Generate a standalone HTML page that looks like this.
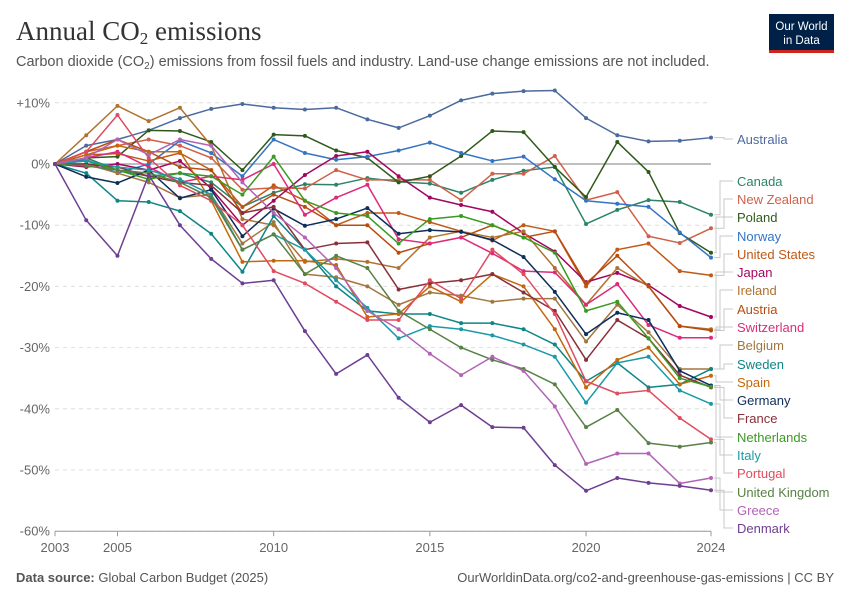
<!DOCTYPE html>
<html><head><meta charset="utf-8">
<style>
body{margin:0;background:#fff;font-family:"Liberation Sans",sans-serif;}
#wrap{position:relative;width:850px;height:600px;overflow:hidden;}
</style></head>
<body>
<div id="wrap">
<svg id="svg" width="850" height="600" xmlns="http://www.w3.org/2000/svg">
<text x="16" y="40" font-family="Liberation Serif,serif" font-size="27" fill="#333">Annual CO<tspan font-size="17" dy="4">2</tspan><tspan dy="-4"> emissions</tspan></text>
<text x="16" y="66" font-size="14.5" fill="#555">Carbon dioxide (CO<tspan font-size="10" dy="3">2</tspan><tspan dy="-3">) emissions from fossil fuels and industry. Land-use change emissions are not included.</tspan></text>
<g>
<rect x="769" y="14" width="65" height="38" fill="#002147"/>
<rect x="769" y="50" width="65" height="3" fill="#ce261e"/>
<text x="801.5" y="30" font-size="11.5" fill="#fff" text-anchor="middle">Our World</text>
<text x="801.5" y="44" font-size="11.5" fill="#fff" text-anchor="middle">in Data</text>
</g>
<g id="grid"></g>
<g id="series"></g>
<g id="legend"></g>
<text x="16" y="582" font-size="13" fill="#555"><tspan font-weight="bold">Data source:</tspan> Global Carbon Budget (2025)</text>
<text x="834" y="582" font-size="13" fill="#555" text-anchor="end">OurWorldinData.org/co2-and-greenhouse-gas-emissions | CC BY</text>
</svg>
</div>
<script>
const years=[2003,2004,2005,2006,2007,2008,2009,2010,2011,2012,2013,2014,2015,2016,2017,2018,2019,2020,2021,2022,2023,2024];
const yTicks=[10,0,-10,-20,-30,-40,-50,-60];
const xTicks=[2003,2005,2010,2015,2020,2024];
const countries=["Australia","Canada","New Zealand","Poland","Norway","United States","Japan","Ireland","Austria","Switzerland","Belgium","Sweden","Spain","Germany","France","Netherlands","Italy","Portugal","United Kingdom","Greece","Denmark"];
const colors=["#4c6a9c","#2c8465","#d0604a","#2f5a1a","#3573c4","#c05917","#a2065f","#b0722e","#b84c0f","#dd2a7a","#a2773f","#0f8585","#c4680e","#0d2d5a","#883039","#3a9a22","#1a9aa8","#e04b5f","#578145","#b165b4","#6d3e91"];
const labelY=[139,181,199,217,236,254,272,290,309,327,345,364,382,400,418,437,455,473,492,510,528];
const australia=[0,3,4,5.5,7.5,9,9.8,9.2,8.9,9.2,7.3,5.9,7.9,10.4,11.5,11.9,12,7.5,4.7,3.7,3.8,4.3];
const canada=[0,1,-1,-2,-1.5,-3,-7,-4.7,-3.3,-3.4,-2.3,-2.9,-3.2,-4.7,-2.6,-1.1,-0.5,-9.8,-7.5,-5.9,-6.2,-8.3];
const newZealand=[0,2,3,4,3,1,-4.2,-3.9,-4,-1,-2.6,-2.6,-2.6,-5.9,-1.6,-1.6,1.3,-5.9,-4.6,-11.8,-12.9,-10.5];
const poland=[0,1,1.2,5.5,5.4,3.6,-1,4.8,4.6,2.2,1,-3,-2,1.3,5.4,5.2,-0.5,-5.4,3.6,-1.3,-11.3,-14.5];
const norway=[0,0.7,-1.5,0,3.8,1.8,-2,4,1.8,0.7,1.2,2.2,3.5,1.8,0.5,1.2,-2.5,-6,-6.5,-7,-11.2,-15.3];
const unitedStates=[0,1.5,1.7,0.5,1.8,-1,-7,-3.5,-6,-10,-8,-8,-9.5,-11,-12.5,-10,-11,-20,-14,-13,-17.5,-18.2];
const japan=[0,-0.5,0,-1,0.5,-4,-10,-6,-1.8,1.3,2,-2,-5.5,-6.7,-7.8,-11.3,-14.3,-19.3,-17.8,-19.8,-23.2,-25];
const ireland=[0,4.7,9.5,7,9.2,3,-9,-10,-16,-15.5,-16,-17,-12,-11,-12,-11,-17,-23,-17,-20,-26.5,-27];
const austria=[0,2,4,2,-0.5,-1,-8,-5,-7,-10,-10,-14.5,-13,-12,-10,-12,-11,-19.5,-15,-20,-26.5,-27.2];
const switzerland=[0,1,2,-0.5,-3,-2,-2.6,0,-8.3,-5.5,-3.4,-12.3,-13,-12,-14.6,-17.5,-17.7,-23,-19.6,-26.3,-28.4,-28.4];
const belgium=[0,0,-1.5,-3,-5.5,-5,-13,-9.5,-18,-18.5,-20,-23,-21,-21.5,-22.5,-22,-22,-29,-23,-27.5,-33.5,-33.5];
const sweden=[0,-1.5,-6,-6.2,-7.7,-11.4,-17.6,-8.5,-14,-20,-24,-24.5,-24.5,-26,-26,-27,-29.5,-35.5,-32.5,-36.5,-36,-33.5];
const spain=[0,1.5,3,2,2,-6,-16,-15.8,-15.8,-16.5,-25,-24.5,-20,-22.5,-18,-20,-27,-36.5,-32,-30,-36,-34.6];
const germany=[0,-2.1,-3.1,-1,-5.6,-4.2,-11.8,-7.3,-10.1,-9,-7.2,-11.4,-10.8,-11.1,-12.4,-15.2,-20.9,-27.8,-24.3,-25.5,-33.8,-36.2];
const france=[0,0,-0.5,-2,-3,-3.5,-8,-7,-14,-13,-12.8,-20.5,-19.5,-19,-18,-21,-24,-32,-25.5,-28.5,-34.5,-36.5];
const netherlands=[0,0.5,-1,-2.5,-1.5,-2,-5,1.2,-6,-8,-8.5,-13,-9,-8.5,-10,-12,-14.5,-24,-22.5,-28.5,-35,-36.4];
const italy=[0,0.5,-0.5,-1,-2.5,-5,-14,-11.5,-14,-19,-23.5,-28.5,-26.5,-27,-28,-29.5,-31.5,-39,-32.5,-31.5,-37,-39.2];
const portugal=[0,2,8,1,-3.5,-6,-10,-17.5,-19.5,-22.5,-25.5,-25.5,-19,-22,-14,-18,-24.5,-35.5,-37.5,-37,-41.5,-45];
const unitedKingdom=[0,-0.3,-1,-1.5,-3,-5.5,-14,-11.5,-18,-15,-17,-24,-27,-30,-32,-33.5,-36,-43,-40.2,-45.6,-46.2,-45.5];
const greece=[0,1,4,1.5,4,3,-3,-8,-12,-17,-24,-27,-31,-34.5,-31.5,-33.8,-39.6,-49,-47.3,-47.3,-52.2,-51.3];
const denmark=[0,-9.2,-15,-1.8,-10,-15.5,-19.5,-19,-27.3,-34.3,-31.2,-38.2,-42.2,-39.4,-43,-43.1,-49.2,-53.4,-51.3,-52.1,-52.6,-53.3];
const seriesData=[australia,canada,newZealand,poland,norway,unitedStates,japan,ireland,austria,switzerland,belgium,sweden,spain,germany,france,netherlands,italy,portugal,unitedKingdom,greece,denmark];

const NS="http://www.w3.org/2000/svg";
const X0=55,X1=711,Y0=164,PER10=61.2;
function xs(yr){return X0+(yr-2003)*(X1-X0)/21;}
function ys(v){return Y0-v*PER10/10;}
function mk(tag,attrs,parent){const e=document.createElementNS(NS,tag);for(const k in attrs)e.setAttribute(k,attrs[k]);parent.appendChild(e);return e;}
const grid=document.getElementById('grid');
yTicks.forEach(t=>{
  const y=ys(t);
  const l=mk('line',{x1:X0,x2:X1,y1:y,y2:y,stroke:t===0?'#aaa':'#ddd','stroke-width':t===0?1.5:1,'stroke-dasharray':t===0?'':'4,4'},grid);
  
  
  const tx=mk('text',{x:50,y:y+4.5,'font-size':13,fill:'#666','text-anchor':'end'},grid);
  tx.textContent=(t>0?'+':'')+t+'%';
  
  
});
const ax=mk('line',{x1:X0,x2:X1,y1:ys(-60),y2:ys(-60),stroke:'#999'},grid);


xTicks.forEach(t=>{
  const x=xs(t);
  const tk=mk('line',{x1:x,x2:x,y1:ys(-60),y2:ys(-60)+5,stroke:'#999'},grid);
  
  
  const tx=mk('text',{x:x,y:552,'font-size':13,fill:'#666','text-anchor':'middle'},grid);
  tx.textContent=t;
  
  
});
const sg=document.getElementById('series');
const lg=document.getElementById('legend');
seriesData.forEach((vals,i)=>{
  const g=mk('g',{},sg);
  
  
  const pts=vals.map((v,j)=>xs(years[j])+','+ys(v)).join(' ');
  const pl=mk('polyline',{points:pts,fill:'none',stroke:colors[i],'stroke-width':1.5,'stroke-linejoin':'round'},g);
  
  
  vals.forEach((v,j)=>{
    const c=mk('circle',{cx:xs(years[j]),cy:ys(v),r:2,fill:colors[i]},g);
    
    
  });
  const ey=ys(vals[vals.length-1]);
  const ly=labelY[i];
  const mx=Math.abs(ey-ly)<3?724:716+(i%3)*4;
  const con=mk('polyline',{points:`${X1+3},${ey} ${mx},${ey} ${mx},${ly} ${733},${ly}`,fill:'none',stroke:'#c8c8c8','stroke-width':1},lg);
  
  
  const t=mk('text',{x:737,y:ly+5,'font-size':13,fill:colors[i]},lg);
  t.textContent=countries[i];
  
  
});
</script>
</body></html>
